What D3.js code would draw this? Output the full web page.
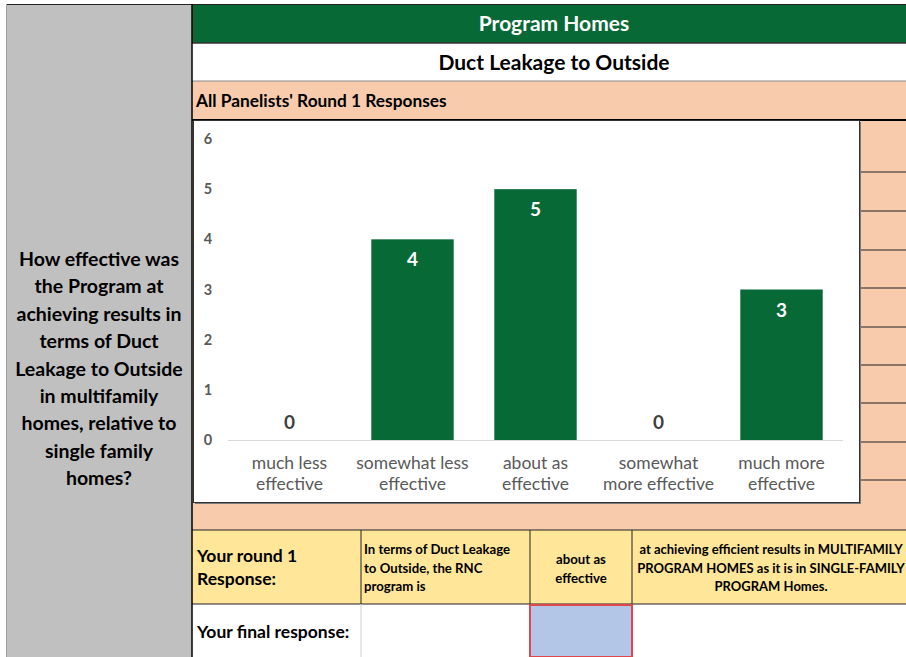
<!DOCTYPE html>
<html><head><meta charset="utf-8">
<script src="https://cdn.jsdelivr.net/npm/d3@7"></script>
<style>body{margin:0;background:#fff}svg{display:block}text{font-family:Lato,"Open Sans",sans-serif}</style>
</head><body><svg id="c" width="906" height="657"></svg>
<script>
const categories = [["much less","effective"],["somewhat less","effective"],["about as","effective"],["somewhat","more effective"],["much more","effective"]];
const values = [0,4,5,0,3];
const yTicks = [0,1,2,3,4,5,6];
const title = "Program Homes";
const subtitle = "Duct Leakage to Outside";
const sectionLabel = "All Panelists' Round 1 Responses";
const questionLines = ["How effective was","the Program at","achieving results in","terms of Duct","Leakage to Outside","in multifamily","homes, relative to","single family","homes?"];
const roundLabel = ["Your round 1","Response:"];
const stemLines = ["In terms of Duct Leakage","to Outside, the RNC","program is"];
const answerLines = ["about as","effective"];
const tailLines = ["at achieving efficient results in MULTIFAMILY","PROGRAM HOMES as it is in SINGLE-FAMILY","PROGRAM Homes."];
const finalLabel = "Your final response:";

const svg = d3.select("#c");
const green = "#076936", peach = "#f8cbad", yellow = "#ffe699", blue = "#b4c6e7", grey = "#c0c0c0";

// background blocks
svg.append("rect").attr("x",0).attr("y",0).attr("width",906).attr("height",657).attr("fill","#fff");
svg.append("rect").attr("x",7).attr("y",4).attr("width",185).attr("height",653).attr("fill",grey);
svg.append("line").attr("x1",6.5).attr("x2",6.5).attr("y1",4).attr("y2",657).attr("stroke","#a0a0a0");
svg.append("rect").attr("x",192).attr("y",4).attr("width",714).attr("height",39).attr("fill",green);
svg.append("rect").attr("x",192).attr("y",81).attr("width",714).attr("height",449).attr("fill",peach);
svg.append("rect").attr("x",192).attr("y",530).attr("width",714).attr("height",74).attr("fill",yellow);
svg.append("rect").attr("x",192).attr("y",604).attr("width",714).attr("height",53).attr("fill","#fff");

// header lines
svg.append("line").attr("x1",7).attr("x2",906).attr("y1",4.5).attr("y2",4.5).attr("stroke","#222");
svg.append("line").attr("x1",192).attr("x2",906).attr("y1",43).attr("y2",43).attr("stroke","#333").attr("stroke-width",1.5);
svg.append("line").attr("x1",192).attr("x2",906).attr("y1",81).attr("y2",81).attr("stroke","#888");
svg.append("line").attr("x1",192).attr("x2",906).attr("y1",120).attr("y2",120).attr("stroke","#000").attr("stroke-width",2);

// right column grid lines
const rightLines = [172,211,250,288,327,365,403,442,480];
svg.selectAll("line.rl").data(rightLines).join("line").attr("class","rl")
  .attr("x1",860).attr("x2",906).attr("y1",d=>d).attr("y2",d=>d).attr("stroke","#222").attr("stroke-width",1.2);

// chart box
svg.append("rect").attr("x",195).attr("y",122).attr("width",666).attr("height",382).attr("fill","#7a7a7a");
svg.append("rect").attr("x",193.5).attr("y",120.5).attr("width",666).attr("height",382).attr("fill","#fff").attr("stroke","#333").attr("stroke-width",1);

// bottom table lines
svg.append("line").attr("x1",192).attr("x2",906).attr("y1",530).attr("y2",530).attr("stroke","#222");
svg.append("line").attr("x1",192).attr("x2",906).attr("y1",604).attr("y2",604).attr("stroke","#222");
[361,530,632].forEach(x=>{
  svg.append("line").attr("x1",x).attr("x2",x).attr("y1",530).attr("y2",604).attr("stroke","#222");
});
[361,530,632].forEach(x=>{
  svg.append("line").attr("x1",x).attr("x2",x).attr("y1",604).attr("y2",657).attr("stroke","#d0d0d0");
});
svg.append("rect").attr("x",530).attr("y",605).attr("width",102).attr("height",52).attr("fill",blue).attr("stroke","#e0474c").attr("stroke-width",2);
svg.append("line").attr("x1",192).attr("x2",192).attr("y1",4).attr("y2",657).attr("stroke","#000").attr("stroke-width",1.5);

// scales
const x = d3.scaleBand().domain(d3.range(categories.length)).range([228,843]).paddingInner(0.33).paddingOuter(0.165);
const y = d3.scaleLinear().domain([0,6]).range([440,139]);

// y axis labels
svg.selectAll("text.yt").data(yTicks).join("text").attr("class","yt")
  .attr("x",208).attr("y",d=>y(d)+5).attr("text-anchor","middle")
  .attr("font-size",14.5).attr("font-weight","bold").attr("fill","#595959").text(d=>d);

// baseline
svg.append("line").attr("x1",228).attr("x2",843).attr("y1",y(0)+0.5).attr("y2",y(0)+0.5).attr("stroke","#d9d9d9");

// bars
svg.selectAll("rect.bar").data(values).join("rect").attr("class","bar")
  .attr("x",(d,i)=>x(i)).attr("width",x.bandwidth())
  .attr("y",d=>y(d)).attr("height",d=>y(0)-y(d)).attr("fill",green);

// data labels
svg.selectAll("text.dl").data(values).join("text").attr("class","dl")
  .attr("x",(d,i)=>x(i)+x.bandwidth()/2)
  .attr("y",d=> d>0 ? y(d)+27 : y(0)-11)
  .attr("text-anchor","middle").attr("font-size",19).attr("font-weight","bold")
  .attr("fill",d=>d>0?"#fff":"#404040").text(d=>d);

// category labels
categories.forEach((lines,i)=>{
  lines.forEach((t,j)=>{
    svg.append("text").attr("x",x(i)+x.bandwidth()/2).attr("y",469+j*20.5)
      .attr("text-anchor","middle").attr("font-size",17.5).attr("fill","#595959").text(t);
  });
});

// headers
svg.append("text").attr("x",554).attr("y",31).attr("text-anchor","middle").attr("font-size",21).attr("font-weight","bold").attr("fill","#fff").text(title);
svg.append("text").attr("x",554).attr("y",70).attr("text-anchor","middle").attr("font-size",21).attr("font-weight","bold").attr("fill","#000").text(subtitle);
svg.append("text").attr("x",196).attr("y",107).attr("font-size",17.3).attr("font-weight","bold").attr("fill","#000").text(sectionLabel);

// question
questionLines.forEach((t,i)=>{
  svg.append("text").attr("x",99).attr("y",266+i*27.4).attr("text-anchor","middle")
    .attr("font-size",19.5).attr("font-weight","bold").attr("fill","#000").text(t);
});

// bottom table text
roundLabel.forEach((t,i)=>{
  svg.append("text").attr("x",197).attr("y",562+i*23).attr("font-size",17.5).attr("font-weight","bold").attr("fill","#000").text(t);
});
stemLines.forEach((t,i)=>{
  svg.append("text").attr("x",364).attr("y",554+i*18.5).attr("font-size",13.2).attr("font-weight","bold").attr("fill","#000").text(t);
});
answerLines.forEach((t,i)=>{
  svg.append("text").attr("x",581).attr("y",564+i*19).attr("text-anchor","middle").attr("font-size",13.2).attr("font-weight","bold").attr("fill","#000").text(t);
});
tailLines.forEach((t,i)=>{
  svg.append("text").attr("x",771).attr("y",554+i*18.5).attr("text-anchor","middle").attr("font-size",13).attr("font-weight","bold").attr("fill","#000").text(t);
});
svg.append("text").attr("x",197).attr("y",638).attr("font-size",17.5).attr("font-weight","bold").attr("fill","#000").text(finalLabel);
</script></body></html>
